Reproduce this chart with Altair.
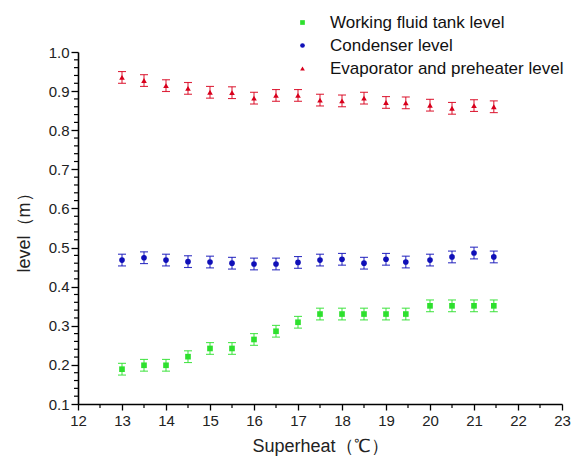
import altair as alt
import pandas as pd

# ---- data ----
superheat = [13, 13.5, 14, 14.5, 15, 15.5, 16, 16.5, 17, 17.5, 18, 18.5, 19, 19.45, 20, 20.5, 21, 21.45]
tank_level = [0.189, 0.199, 0.199, 0.221, 0.242, 0.242, 0.265, 0.286, 0.309, 0.330, 0.330, 0.330,
              0.330, 0.330, 0.351, 0.351, 0.351, 0.351]
condenser_level = [0.468, 0.474, 0.468, 0.464, 0.463, 0.460, 0.458, 0.458, 0.462, 0.468, 0.470, 0.460,
                   0.470, 0.463, 0.468, 0.476, 0.486, 0.476]
evaporator_level = [0.935, 0.927, 0.914, 0.907, 0.897, 0.896, 0.882, 0.889, 0.889, 0.877, 0.875, 0.882,
                    0.871, 0.870, 0.864, 0.856, 0.863, 0.860]
tank_err = [0.015] * 18
condenser_err = [0.015] * 18
evaporator_err = [0.015] * 18

series_names = ["Working fluid tank level", "Condenser level", "Evaporator and preheater level"]
series_colors = ["#2EE02E", "#1010B8", "#D8001C"]
series_shapes = ["square", "circle", "triangle-up"]

x_major = [12, 13, 14, 15, 16, 17, 18, 19, 20, 21, 22, 23]
x_minor = [12.5, 13.5, 14.5, 15.5, 16.5, 17.5, 18.5, 19.5, 20.5, 21.5, 22.5]
y_major = [0.1, 0.2, 0.3, 0.4, 0.5, 0.6, 0.7, 0.8, 0.9, 1.0]
y_minor = [round(0.1 + 0.02 * i, 2) for i in range(46) if i % 5 != 0]

rows = []
for name, vals, errs in zip(series_names,
                            [tank_level, condenser_level, evaporator_level],
                            [tank_err, condenser_err, evaporator_err]):
    for x, v, e in zip(superheat, vals, errs):
        rows.append({"series": name, "x": x, "y": v, "lo": v - e, "hi": v + e})
df = pd.DataFrame(rows)
df_xminor = pd.DataFrame({"x": x_minor})
df_yminor = pd.DataFrame({"y": y_minor})

FONT = "Liberation Sans"

xscale = alt.Scale(domain=[12, 23], nice=False, zero=False)
yscale = alt.Scale(domain=[0.1, 1.0], nice=False, zero=False)
cscale = alt.Scale(domain=series_names, range=series_colors)
sscale = alt.Scale(domain=series_names, range=series_shapes)

x_axis = alt.Axis(
    values=x_major, format="d", tickSize=6,
    title="Superheat（℃）", grid=False, labelFlush=False, labelOverlap=False,
    domainColor="black", domainWidth=1.6, tickColor="black", tickWidth=1.3,
    labelFont=FONT, labelFontSize=15, labelColor="#222", labelPadding=3,
    titleFont=FONT, titleFontSize=18, titleFontWeight="normal", titleColor="#222", titlePadding=9,
)
y_axis = alt.Axis(
    values=y_major, format=".1f", tickSize=7,
    title="level（m）", grid=False, labelFlush=False, labelOverlap=False,
    domainColor="black", domainWidth=1.6, tickColor="black", tickWidth=1.3,
    labelFont=FONT, labelFontSize=15, labelColor="#222", labelPadding=2,
    titleFont=FONT, titleFontSize=18, titleFontWeight="normal", titleColor="#222", titlePadding=15,
)
legend = alt.Legend(
    title=None, orient="none", legendX=216, legendY=-38, padding=0,
    labelFont=FONT, labelFontSize=17, labelColor="#111", labelOffset=19, labelLimit=400,
    symbolSize=22, rowPadding=5, symbolStrokeWidth=0,
)

X = alt.X("x:Q", scale=xscale, axis=x_axis, title="Superheat（℃）")
C = alt.Color("series:N", scale=cscale, legend=legend)


def Y(field):
    return alt.Y(field, scale=yscale, axis=y_axis, title="level（m）")


base = alt.Chart(df)

bars = base.mark_rule(strokeWidth=1.1, opacity=0.85).encode(
    x=X, y=Y("lo:Q"), y2="hi:Q", color=C,
)
cap_hi = base.mark_tick(orient="horizontal", size=8, thickness=1.1, opacity=0.85).encode(
    x=X, y=Y("hi:Q"), color=C,
)
cap_lo = base.mark_tick(orient="horizontal", size=8, thickness=1.1, opacity=0.85).encode(
    x=X, y=Y("lo:Q"), color=C,
)
points = base.mark_point(filled=True, size=32, opacity=1).encode(
    x=X, y=Y("y:Q"), color=C,
    shape=alt.Shape("series:N", scale=sscale, legend=legend),
)

x_minor_ticks = alt.Chart(df_xminor).mark_rule(strokeWidth=1.2, clip=False).encode(
    x=X, y=alt.value(352), y2=alt.value(356), color=alt.value("black"),
)
y_minor_ticks = alt.Chart(df_yminor).mark_rule(strokeWidth=1.2, clip=False).encode(
    y=Y("y:Q"), x=alt.value(-4), x2=alt.value(0), color=alt.value("black"),
)

chart = alt.layer(points, bars, cap_hi, cap_lo, x_minor_ticks, y_minor_ticks).properties(
    width=484, height=352,
    autosize=alt.AutoSizeParams(type="none"),
    padding={"left": 78, "top": 52, "right": 16, "bottom": 56},
    background="white",
).configure_view(stroke=None)

chart.save("out.html", embed_options={"renderer": "svg", "actions": False})
